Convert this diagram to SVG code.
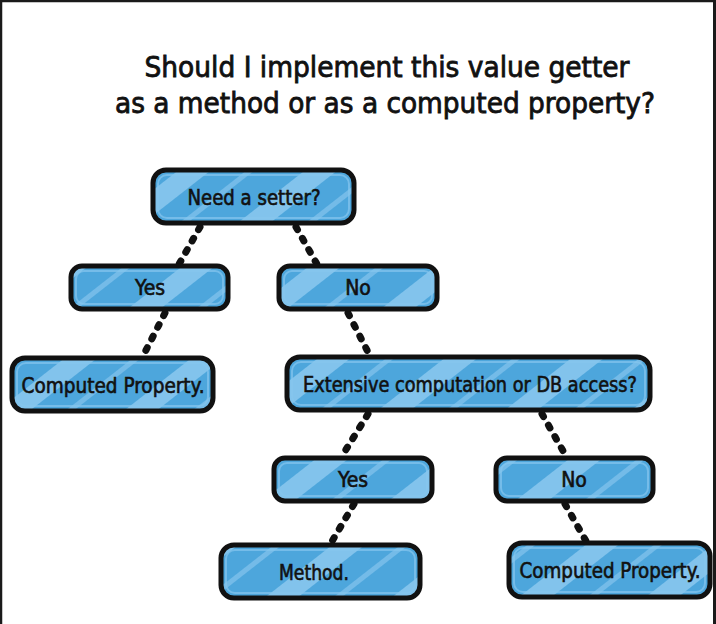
<svg xmlns="http://www.w3.org/2000/svg" width="716" height="624" viewBox="0 0 716 624">
<defs>
<pattern id="stripes" patternUnits="userSpaceOnUse" width="78" height="78" patternTransform="rotate(52)">
<rect x="0" y="0" width="78" height="78" fill="#4da6dc"/>
<rect x="10" y="0" width="20" height="78" fill="#82c3ec"/>
<rect x="52" y="0" width="5" height="78" fill="#74bbe8"/>
</pattern>
</defs>
<style>
.box{fill:url(#stripes);stroke:#111;stroke-width:5}
.rim{fill:none;stroke:#86c6ee;stroke-width:2;opacity:0.7}
.lbl{font-family:"DejaVu Sans Condensed","DejaVu Sans",sans-serif;font-size:21px;fill:#111;stroke:#111;stroke-width:0.6;text-anchor:middle}
.title{font-family:"DejaVu Sans Condensed","DejaVu Sans",sans-serif;font-size:29px;fill:#111;stroke:#111;stroke-width:0.8;text-anchor:middle}
.conn{stroke:#111;stroke-width:7;stroke-linecap:round;stroke-dasharray:3 10;fill:none}
</style>
<rect x="0" y="0" width="716" height="624" fill="#fff"/>
<g id="frame" stroke="#1a1a1a" fill="none">
<line x1="0" y1="1" x2="716" y2="1" stroke-width="2.5"/>
<line x1="1" y1="0" x2="1" y2="624" stroke-width="2.5"/>
<line x1="714.5" y1="0" x2="714.5" y2="624" stroke-width="3"/>
</g>
<g id="title">
<text class="title" x="387" y="77" textLength="485" lengthAdjust="spacingAndGlyphs">Should I implement this value getter</text>
<text class="title" x="385" y="113" textLength="540" lengthAdjust="spacingAndGlyphs">as a method or as a computed property?</text>
</g>
<g id="connectors">
<line class="conn" x1="200" y1="227" x2="178" y2="266"/>
<line class="conn" x1="296" y1="227" x2="318" y2="266"/>
<line class="conn" x1="165" y1="313" x2="143" y2="356"/>
<line class="conn" x1="348" y1="313" x2="370" y2="356"/>
<line class="conn" x1="368" y1="414" x2="342" y2="456"/>
<line class="conn" x1="542" y1="414" x2="566" y2="456"/>
<line class="conn" x1="354" y1="504" x2="331" y2="543"/>
<line class="conn" x1="565" y1="504" x2="586" y2="541"/>
</g>
<g id="need-setter">
<rect class="box" x="153" y="170" width="201" height="53" rx="13"/>
<rect class="rim" x="158" y="175" width="191" height="43" rx="9"/>
<text class="lbl" x="254" y="205" textLength="133" lengthAdjust="spacingAndGlyphs">Need a setter?</text>
</g>
<g id="yes-1">
<rect class="box" x="71" y="266" width="157" height="43" rx="11"/>
<rect class="rim" x="76" y="271" width="147" height="33" rx="8"/>
<text class="lbl" x="150" y="295">Yes</text>
</g>
<g id="no-1">
<rect class="box" x="279" y="266" width="158" height="43" rx="11"/>
<rect class="rim" x="284" y="271" width="148" height="33" rx="8"/>
<text class="lbl" x="358" y="295">No</text>
</g>
<g id="computed-1">
<rect class="box" x="12" y="358" width="201" height="53" rx="13"/>
<rect class="rim" x="17" y="363" width="191" height="43" rx="9"/>
<text class="lbl" x="113" y="393" textLength="183" lengthAdjust="spacingAndGlyphs">Computed Property.</text>
</g>
<g id="extensive">
<rect class="box" x="287" y="357" width="363" height="53" rx="13"/>
<rect class="rim" x="292" y="362" width="353" height="43" rx="9"/>
<text class="lbl" x="470" y="392" textLength="334" lengthAdjust="spacingAndGlyphs">Extensive computation or DB access?</text>
</g>
<g id="yes-2">
<rect class="box" x="274" y="458" width="158" height="43" rx="11"/>
<rect class="rim" x="279" y="463" width="148" height="33" rx="8"/>
<text class="lbl" x="353" y="487">Yes</text>
</g>
<g id="no-2">
<rect class="box" x="496" y="458" width="157" height="43" rx="11"/>
<rect class="rim" x="501" y="463" width="147" height="33" rx="8"/>
<text class="lbl" x="574" y="487">No</text>
</g>
<g id="method">
<rect class="box" x="221" y="545" width="199" height="53" rx="13"/>
<rect class="rim" x="226" y="550" width="189" height="43" rx="9"/>
<text class="lbl" x="314" y="580" textLength="70" lengthAdjust="spacingAndGlyphs">Method.</text>
</g>
<g id="computed-2">
<rect class="box" x="509" y="543" width="201" height="54" rx="13"/>
<rect class="rim" x="514" y="548" width="191" height="44" rx="9"/>
<text class="lbl" x="610" y="578" textLength="181" lengthAdjust="spacingAndGlyphs">Computed Property.</text>
</g>
</svg>
